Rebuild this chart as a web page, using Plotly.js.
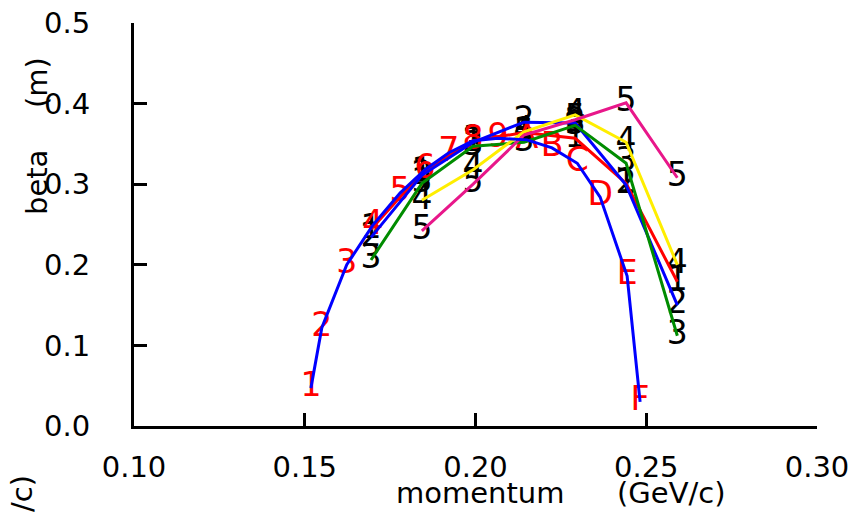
<!DOCTYPE html>
<html>
<head>
<meta charset="utf-8">
<script src="https://cdn.plot.ly/plotly-3.0.1.min.js"></script>
<style>
html,body{margin:0;padding:0;background:#fff;}
#chart{width:867px;height:524px;}
</style>
</head>
<body>
<div id="chart"></div>
<script>
// ---- data ----
const momentum = [0.1694, 0.1843, 0.1993, 0.2142, 0.2292, 0.2441, 0.2591];
const momentumLate = [0.1843, 0.1993, 0.2142, 0.2292, 0.2441, 0.2591];
const beta1 = [0.244, 0.314, 0.354, 0.364, 0.357, 0.301, 0.179];
const beta2 = [0.234, 0.311, 0.352, 0.377, 0.376, 0.299, 0.150];
const beta3 = [0.206, 0.301, 0.347, 0.352, 0.373, 0.326, 0.112];
const beta4 = [0.280, 0.318, 0.365, 0.386, 0.352, 0.200];
const beta5 = [0.242, 0.300, 0.361, 0.380, 0.401, 0.308];
const seriesLabels = ['1', '2', '3', '4', '5'];

const curveX = [0.1518, 0.1550, 0.1623, 0.1699, 0.1779, 0.1852, 0.1922, 0.1993, 0.2066, 0.2151, 0.2224, 0.2298, 0.2365, 0.2444, 0.2482];
const curveY = [0.047, 0.122, 0.200, 0.249, 0.289, 0.318, 0.339, 0.354, 0.357, 0.355, 0.345, 0.326, 0.284, 0.186, 0.030];
const curveLabels = ['1','2','3','4','5','6','7','8','9','A','B','C','D','E','F'];

const xTicks = [0.10, 0.15, 0.20, 0.25, 0.30];
const yTicks = [0.0, 0.1, 0.2, 0.3, 0.4, 0.5];

// ---- styling ----
const FONT = 'DejaVu Sans, sans-serif';
const lineSeries = [
  {x: momentum, y: beta1, color: '#ff0000', label: seriesLabels[0]},
  {x: momentum, y: beta2, color: '#0000ff', label: seriesLabels[1]},
  {x: momentum, y: beta3, color: '#008c00', label: seriesLabels[2]},
  {x: momentumLate, y: beta4, color: '#ffee00', label: seriesLabels[3]},
  {x: momentumLate, y: beta5, color: '#e8178a', label: seriesLabels[4]}
];

const traces = [];
lineSeries.forEach(s => {
  traces.push({x: s.x, y: s.y, mode: 'text', text: s.x.map(() => s.label),
    textposition: 'middle center', textfont: {family: FONT, size: 33, color: '#000000'},
    hoverinfo: 'skip', showlegend: false, cliponaxis: false});
});
traces.push({x: curveX, y: curveY, mode: 'text', text: curveLabels,
  textposition: 'middle center', textfont: {family: FONT, size: 33, color: '#ff0000'},
  hoverinfo: 'skip', showlegend: false, cliponaxis: false});
lineSeries.forEach(s => {
  traces.push({x: s.x, y: s.y, mode: 'lines', line: {color: s.color, width: 3},
    hoverinfo: 'skip', showlegend: false});
});
traces.push({x: curveX, y: curveY, mode: 'lines', line: {color: '#0000ff', width: 3},
  hoverinfo: 'skip', showlegend: false});

const L = 134, R = 817, T = 23, B = 426;
const px = v => (v - L) / (R - L);
const py = v => (B - v) / (B - T);

const layout = {
  width: 867, height: 524,
  margin: {l: L, r: 867 - R, t: T, b: 524 - B, pad: 0},
  paper_bgcolor: '#ffffff', plot_bgcolor: '#ffffff',
  showlegend: false,
  font: {family: FONT, size: 29, color: '#000000'},
  xaxis: {
    range: [0.10, 0.30], tickvals: xTicks, ticktext: xTicks.map(v => v.toFixed(2)),
    ticks: 'inside', ticklen: 13, tickwidth: 3, tickcolor: '#000',
    showline: true, linewidth: 3, linecolor: '#000', mirror: false,
    showgrid: false, zeroline: false, ticklabelstandoff: 13,
    tickfont: {family: FONT, size: 29, color: '#000'}
  },
  yaxis: {
    range: [0.0, 0.5], tickvals: yTicks, ticktext: yTicks.map(v => v.toFixed(1)),
    ticks: 'inside', ticklen: 13, tickwidth: 3, tickcolor: '#000',
    showline: true, linewidth: 3, linecolor: '#000', mirror: false,
    showgrid: false, zeroline: false, ticklabelstandoff: 35,
    tickfont: {family: FONT, size: 29, color: '#000'}
  },
  annotations: [
    {text: 'momentum', xref: 'paper', yref: 'paper', x: px(480), y: py(493), xanchor: 'center', yanchor: 'middle', showarrow: false, font: {family: FONT, size: 29, color: '#000'}},
    {text: '(GeV/c)', xref: 'paper', yref: 'paper', x: px(671), y: py(493), xanchor: 'center', yanchor: 'middle', showarrow: false, font: {family: FONT, size: 29, color: '#000'}},
    {text: 'beta', xref: 'paper', yref: 'paper', x: px(37), y: py(183), xanchor: 'center', yanchor: 'middle', textangle: -90, showarrow: false, font: {family: FONT, size: 29, color: '#000'}},
    {text: '(m)', xref: 'paper', yref: 'paper', x: px(37), y: py(83), xanchor: 'center', yanchor: 'middle', textangle: -90, showarrow: false, font: {family: FONT, size: 29, color: '#000'}},
    {text: '/c)', xref: 'paper', yref: 'paper', x: px(22), y: py(494), xanchor: 'center', yanchor: 'middle', textangle: -90, showarrow: false, font: {family: FONT, size: 29, color: '#000'}}
  ]
};

Plotly.newPlot('chart', traces, layout, {staticPlot: true, displayModeBar: false});
</script>
</body>
</html>
